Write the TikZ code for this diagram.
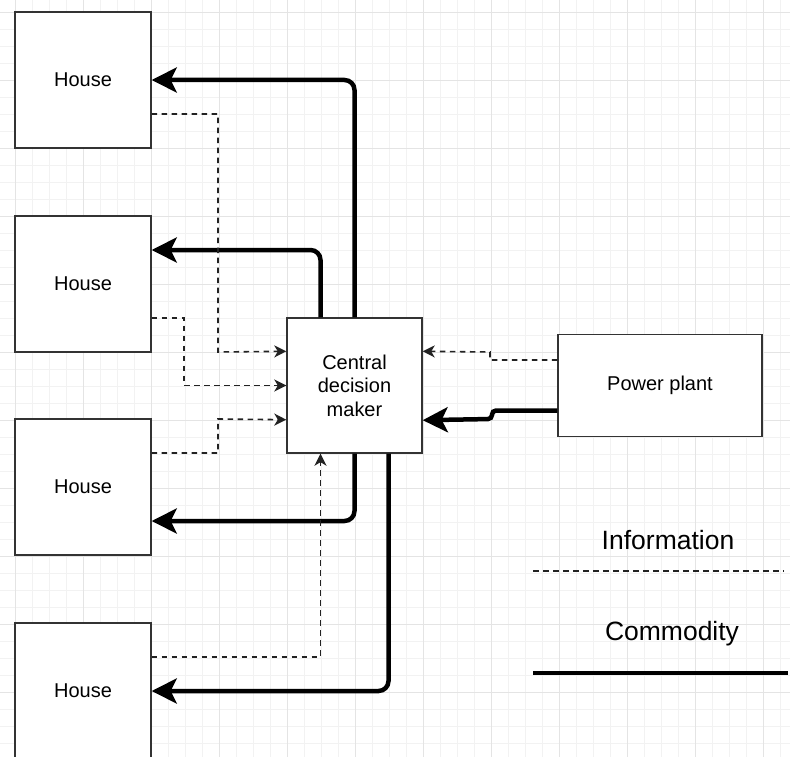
\documentclass[tikz,border=0pt]{standalone}
\usepackage{fontspec}
\setmainfont{Liberation Sans}
\usetikzlibrary{arrows.meta}

\definecolor{gridminor}{HTML}{F2F2F2}
\definecolor{gridmajor}{HTML}{E4E4E4}
\definecolor{boxline}{HTML}{333333}
\definecolor{dashline}{HTML}{222222}

\tikzset{
  box/.style={draw=boxline, line width=1.4pt, fill=white, align=center,
    font=\fontsize{20}{23.5}\selectfont, inner sep=0pt},
  comm/.style={line width=4.5pt, rounded corners=10pt,
    -{Stealth[length=25pt, width=25pt, inset=6pt]}},
  info/.style={draw=dashline, line width=1.6pt, dash pattern=on 5.5pt off 4.5pt,
    -{Stealth[length=12pt, width=12pt, inset=3.5pt, fill=dashline]}},
  legendtext/.style={font=\fontsize{26.5}{30}\selectfont, inner sep=0pt}
}

\begin{document}
\begin{tikzpicture}[x=1pt, y=-1pt]
  % canvas and background grid
  \fill[white] (0,0) rectangle (790,757);
  \useasboundingbox (0,0) rectangle (790,757);
  \foreach \i in {0,...,47} {
    \pgfmathsetmacro{\gx}{-2+17*\i}
    \pgfmathsetmacro{\gy}{-5+17*\i}
    \draw[gridminor, line width=0.8pt] (\gx,0) -- (\gx,757);
    \draw[gridminor, line width=0.8pt] (0,\gy) -- (790,\gy);
  }
  \foreach \i in {0,...,12} {
    \pgfmathsetmacro{\gx}{15+68*\i}
    \pgfmathsetmacro{\gy}{12+68*\i}
    \draw[gridmajor, line width=0.8pt] (\gx,0) -- (\gx,757);
    \draw[gridmajor, line width=0.8pt] (0,\gy) -- (790,\gy);
  }

  % houses
  \node[box, minimum width=136pt, minimum height=136pt] (h1) at (83,80) {House};
  \node[box, minimum width=136pt, minimum height=136pt] (h2) at (83,284) {House};
  \node[box, minimum width=136pt, minimum height=136pt] (h3) at (83,487) {House};
  \node[box, minimum width=136pt, minimum height=136pt] (h4) at (83,691) {House};

  % decision maker and supply
  \node[box, minimum width=135pt, minimum height=135pt] (c) at (354.5,385.5)
    {Central\\decision\\maker};
  \node[box, minimum width=204pt, minimum height=102pt] (pp) at (660,385.5)
    {Power plant};

  % commodity flows
  \draw[comm] (c.north) |- (h1.east);
  \draw[comm] ([xshift=-34pt]c.north) |- ([yshift=34pt]h2.east);
  \draw[comm] (c.south) |- ([yshift=-34pt]h3.east);
  \draw[comm] ([xshift=34pt]c.south) |- (h4.east);
  \draw[comm, rounded corners=4pt] ([yshift=-25pt]pp.west) -- (492,410.5)
    -- (492,419) -- ([yshift=33.5pt]c.south east);

  % information flows
  \draw[info] ([yshift=-34pt]h1.east) -| (218,352) -- ([yshift=-34pt]c.north west);
  \draw[info] ([yshift=-34pt]h2.east) -| (184,385.5) -- (c.west);
  \draw[info] ([yshift=34pt]h3.east) -| (218,419) -- ([yshift=34pt]c.south west);
  \draw[info] ([yshift=34pt]h4.east) -| ([xshift=-34pt]c.south);
  \draw[info] ([yshift=25.5pt]pp.west) -- (490,360) -- (490,352)
    -- ([yshift=-34pt]c.north east);

  % legend
  \node[legendtext] (linfo) at (668,540) {Information};
  \node[legendtext] (lcomm) at (672,634) {Commodity};
  \coordinate (i1) at (533,571);
  \coordinate (i2) at (784,571);
  \coordinate (k1) at (533,673);
  \coordinate (k2) at (788,673);
  \draw[draw=dashline, line width=1.6pt, dash pattern=on 5.5pt off 4.5pt] (i1) -- (i2);
  \draw[line width=4.5pt] (k1) -- (k2);
\end{tikzpicture}
\end{document}
